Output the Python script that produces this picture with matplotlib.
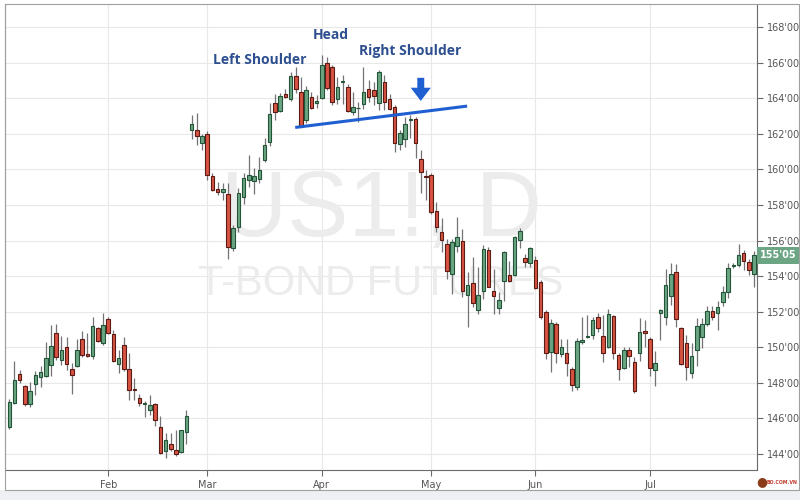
import matplotlib
matplotlib.use("Agg")
import matplotlib.pyplot as plt
import matplotlib.transforms as mtransforms
from matplotlib.patches import Rectangle
import numpy as np

# daily OHLC, one value per trading bar (Jan .. late Jul)
opens = [
    145.50, 146.86, 148.47, 147.83, 146.80, 147.93, 148.32, 148.39, 149.00, 150.80,
    149.29, 150.04, 148.77, 148.95, 150.45, 149.60, 149.51, 151.08, 150.26, 151.59,
    150.73, 149.07, 150.11, 148.77, 147.65, 147.12, 146.80, 146.49, 146.80, 145.53,
    144.15, 144.58, 144.21, 144.11, 145.23,
    162.21, 162.23, 161.47, 161.99, 159.63, 158.88, 158.75, 158.60, 155.57, 156.78,
    158.47, 159.41, 159.37, 159.44, 160.53, 161.52, 163.71, 163.30, 164.24, 163.94,
    165.27, 164.35, 162.80, 164.05, 163.71, 164.03, 166.01, 165.73, 163.94, 164.93,
    164.65, 163.20, 163.43, 163.66, 164.50, 164.46, 163.71, 164.89, 163.96, 163.49,
    161.41, 161.71, 162.80, 162.83, 160.60, 159.60, 159.68, 157.64, 156.48, 155.81,
    154.12, 155.71, 155.99, 152.96, 153.60, 152.12, 153.18, 155.47, 153.18, 152.21,
    153.72, 154.06, 154.08, 156.03, 155.02, 154.72, 154.91, 153.65, 152.00, 149.75,
    151.30, 149.62, 149.66, 148.76, 147.78, 150.30, 150.60, 150.69, 151.68, 150.63,
    150.03, 151.75, 149.56, 148.81, 149.84, 149.19, 149.69, 150.91, 150.45, 148.72,
    151.90, 151.68, 152.90, 154.21, 151.07, 150.26, 148.54, 149.82, 150.60, 151.31,
    152.06, 151.94, 152.56, 153.12, 154.55, 154.62, 155.32, 154.77, 154.10,
]
highs = [
    147.10, 149.23, 148.73, 147.89, 148.07, 148.67, 148.97, 150.28, 151.25, 151.31,
    150.64, 150.56, 149.10, 150.45, 150.92, 150.80, 151.68, 151.16, 151.91, 151.72,
    150.97, 149.85, 150.60, 149.66, 148.26, 147.36, 147.00, 147.33, 146.86, 146.15,
    145.18, 145.18, 145.36, 145.36, 146.49,
    163.06, 163.15, 161.99, 162.18, 159.82, 159.31, 159.25, 159.22, 156.88, 158.94,
    159.78, 160.81, 160.06, 160.72, 161.75, 163.75, 164.22, 164.31, 164.50, 165.49,
    165.77, 165.21, 164.70, 164.33, 164.18, 166.43, 166.33, 165.87, 165.21, 165.30,
    164.78, 164.37, 163.80, 165.77, 165.02, 164.93, 165.58, 165.30, 164.22, 163.62,
    162.21, 162.96, 163.05, 162.96, 161.10, 159.96, 159.78, 158.15, 157.27, 156.09,
    156.09, 157.34, 156.65, 154.21, 155.06, 154.49, 155.77, 155.62, 154.40, 153.09,
    155.44, 154.87, 156.27, 156.70, 155.24, 155.66, 155.15, 153.80, 152.09, 151.57,
    151.43, 150.44, 150.44, 148.91, 150.50, 151.70, 151.80, 151.72, 151.90, 151.81,
    152.13, 151.81, 149.66, 149.99, 149.99, 149.47, 151.66, 151.53, 150.60, 149.80,
    152.13, 154.40, 154.72, 154.66, 151.16, 150.69, 150.22, 151.63, 151.63, 152.32,
    152.32, 152.62, 153.44, 154.72, 154.72, 155.80, 155.47, 154.96, 155.43,
]
lows = [
    145.40, 146.80, 147.98, 146.71, 146.64, 147.33, 147.76, 148.32, 148.36, 149.29,
    149.00, 148.73, 147.36, 148.88, 149.44, 149.45, 149.33, 150.32, 150.13, 150.75,
    149.20, 148.58, 148.64, 147.05, 147.05, 146.71, 146.10, 146.20, 145.59, 144.02,
    143.78, 144.15, 143.87, 144.06, 144.58,
    161.69, 161.37, 161.09, 159.40, 158.78, 158.56, 158.28, 154.95, 155.43, 156.50,
    158.06, 159.03, 158.62, 159.22, 160.43, 161.31, 162.78, 163.20, 163.99, 163.86,
    164.27, 162.36, 162.60, 163.39, 163.43, 163.95, 164.46, 163.62, 163.65, 163.70,
    163.20, 163.05, 162.68, 163.39, 163.80, 163.60, 163.34, 163.33, 163.33, 160.99,
    161.09, 161.28, 161.74, 160.62, 158.70, 158.28, 157.49, 156.46, 155.34, 153.84,
    153.00, 155.34, 152.81, 151.16, 152.25, 151.87, 152.72, 153.37, 151.87, 151.87,
    152.62, 153.65, 154.03, 155.58, 154.49, 154.49, 153.28, 151.60, 149.32, 148.63,
    149.09, 149.43, 148.38, 147.56, 147.60, 150.20, 150.50, 150.44, 150.87, 149.19,
    149.94, 149.32, 148.16, 148.76, 148.91, 147.41, 149.24, 150.03, 148.38, 147.85,
    150.40, 151.28, 152.37, 151.16, 149.00, 148.16, 148.26, 148.95, 149.94, 151.20,
    151.53, 150.97, 152.32, 152.75, 154.44, 154.53, 154.34, 154.06, 153.41,
]
closes = [
    146.95, 148.17, 148.17, 146.82, 147.55, 148.43, 148.60, 149.38, 150.07, 149.48,
    149.85, 149.05, 148.45, 149.85, 149.57, 149.50, 151.20, 150.37, 151.25, 150.79,
    149.23, 149.38, 148.79, 147.60, 147.57, 146.84, 146.82, 146.77, 145.89, 144.06,
    144.79, 144.30, 144.00, 145.33, 146.15,
    162.55, 161.90, 161.86, 159.69, 158.84, 158.75, 158.88, 155.62, 156.69, 158.66,
    159.50, 159.69, 159.63, 159.97, 161.39, 163.11, 163.21, 164.14, 164.05, 165.27,
    164.50, 162.40, 164.44, 163.47, 163.86, 165.86, 164.55, 163.77, 164.61, 164.97,
    163.28, 163.49, 163.47, 164.37, 164.09, 164.14, 165.45, 163.77, 163.39, 161.46,
    162.02, 162.53, 162.86, 161.46, 159.83, 159.58, 157.62, 156.78, 156.03, 154.31,
    155.90, 156.18, 153.15, 153.52, 152.49, 152.96, 155.52, 153.41, 152.90, 152.66,
    155.36, 153.75, 156.22, 156.55, 154.78, 155.58, 153.33, 151.72, 149.69, 151.34,
    149.66, 149.99, 149.09, 147.88, 150.35, 150.40, 150.65, 151.53, 151.06, 149.66,
    151.87, 149.66, 148.76, 149.84, 149.51, 147.56, 150.87, 150.78, 148.81, 149.14,
    152.07, 153.50, 154.12, 151.57, 149.06, 148.90, 149.51, 151.22, 151.29, 152.06,
    151.72, 152.28, 153.12, 154.43, 154.62, 155.18, 154.87, 154.34, 155.16,
]

month_labels = ["Feb", "Mar", "Apr", "May", "Jun", "Jul"]
month_first_bar = [19, 38, 60, 81, 101, 123]

# head & shoulders annotation (bar index, price)
neckline_x = [54.9, 87.9]
neckline_y = [162.36, 163.56]
pattern_labels = ["Left Shoulder", "Head", "Right Shoulder"]
pattern_label_x = [48.0, 61.8, 77.0]
pattern_label_y = [166.15, 167.55, 166.65]
arrow_x = 79.0
arrow_from, arrow_to = 165.15, 163.85

UP, DOWN = "#6ba583", "#d75442"
UP_EDGE, DOWN_EDGE = "#225437", "#5b1a13"
WICK = "#737375"


def fmt_32nds(p):
    whole = int(p)
    return f"{whole}'{int(round((p - whole) * 32)):02d}"


o = np.array(opens); h = np.array(highs); l = np.array(lows); c = np.array(closes)
x = np.arange(len(o))
up = c >= o

fig = plt.figure(figsize=(8, 5), dpi=100)
fig.patch.set_facecolor("white")
fig.patches.append(Rectangle((0, 0), 1, 10 / 500, transform=fig.transFigure,
                             facecolor="#eef0f3", edgecolor="none", zorder=0))
fig.patches.append(Rectangle((5 / 800, 10 / 500), 794 / 800, 486 / 500, transform=fig.transFigure,
                             facecolor="none", edgecolor="#a0a0a0", lw=0.8, zorder=0))

ax = fig.add_axes([5 / 800, 30 / 500, 752 / 800, 466 / 500])
ax.set_xlim(-0.82, 143.55)
ax.set_ylim(143.1, 169.3)

# grid
for yv in range(144, 169, 2):
    ax.axhline(yv, color="#e8e8e8", lw=0.8, zorder=0)
for xv in month_first_bar:
    ax.axvline(xv, color="#e8e8e8", lw=0.8, zorder=0)

# watermark
ax.text(0.5, 0.553, "US1!, D", transform=ax.transAxes, ha="center", va="center",
        fontsize=66, color="#ececec", family="Liberation Sans", zorder=0.5)
ax.text(0.5, 0.399, "T-BOND FUTURES", transform=ax.transAxes, ha="center", va="center",
        fontsize=30, color="#ececec", family="Liberation Sans", zorder=0.5)

# candles
ax.vlines(x, l, h, color=WICK, lw=0.9, zorder=2)
body_lo = np.minimum(o, c)
body_h = np.maximum(np.abs(c - o), 0.04)
ax.bar(x, body_h, bottom=body_lo, width=0.68,
       color=np.where(up, UP, DOWN), edgecolor=np.where(up, UP_EDGE, DOWN_EDGE),
       linewidth=0.8, zorder=3)

# pattern annotation
ax.plot(neckline_x, neckline_y, color="#1f5fd1", lw=2.2, solid_capstyle="butt", zorder=4)
for txt, tx, ty in zip(pattern_labels, pattern_label_x, pattern_label_y):
    ax.text(tx, ty, txt, ha="center", va="center", fontsize=10, fontweight="bold",
            color="#2d4f8f", family="Open Sans", zorder=5)
ax.annotate("", xy=(arrow_x, arrow_to), xytext=(arrow_x, arrow_from),
            arrowprops=dict(arrowstyle="simple,head_length=0.95,head_width=1.45,tail_width=0.5",
                            color="#1f5fd1", lw=0, shrinkA=0, shrinkB=0), zorder=5)

# axes styling
ax.spines["top"].set_visible(False)
ax.spines["left"].set_color("#a0a0a0")
ax.spines["right"].set_color("#6a6a6a")
ax.spines["bottom"].set_color("#6a6a6a")
ax.yaxis.tick_right()
yticks = list(range(144, 169, 2))
ax.set_yticks(yticks)
ax.set_yticklabels([fmt_32nds(v) for v in yticks])
ax.set_xticks(month_first_bar)
ax.set_xticklabels(month_labels)
ax.tick_params(axis="both", colors="#6a6a6a", labelcolor="#555555", labelsize=7, length=4, width=0.8)
ax.tick_params(axis="y", pad=3)
ax.tick_params(axis="x", pad=3)

# last price tag
trans = mtransforms.blended_transform_factory(ax.transAxes, ax.transData)
ax.text(1.004, c[-1], fmt_32nds(c[-1]), transform=trans, ha="left", va="center",
        fontsize=7, fontweight="bold", color="white",
        bbox=dict(boxstyle="square,pad=0.35", facecolor=UP, edgecolor="none"), zorder=6)

# small logo
fig.text(762 / 800, 18 / 500, "\u25cf", color="#8a3b1a", fontsize=9, ha="center", va="center")
fig.text(767 / 800, 18 / 500, "BO.COM.VN", color="#c0392b", fontsize=3.4, fontweight="bold",
         ha="left", va="center")

fig.savefig("out.png", dpi=100, facecolor=fig.get_facecolor())
